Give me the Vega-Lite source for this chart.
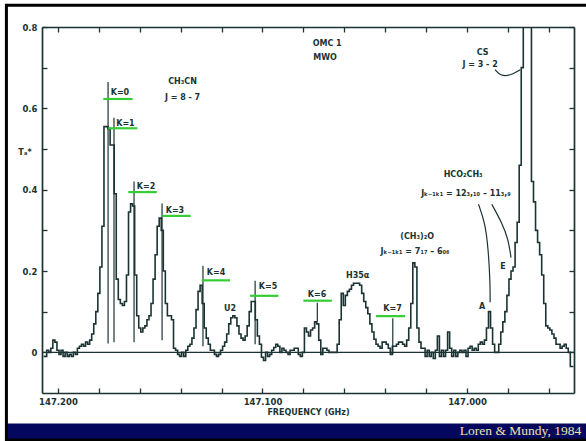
{
  "$schema": "https://vega.github.io/schema/vega-lite/v6.json",
  "width": 532,
  "height": 366,
  "autosize": "none",
  "padding": {"left": 42, "top": 27, "right": 12, "bottom": 48},
  "background": "white",
  "config": {"view": {"stroke": null}, "font": "DejaVu Sans"},
  "resolve": {"axis": {"x": "independent", "y": "independent"}},
  "datasets": {
    "spec": [
      {"f":147.207,"t":-0.01},{"f":147.206,"t":-0.01},{"f":147.205,"t":0.005},{"f":147.204,"t":0},{"f":147.203,"t":0.01},
      {"f":147.202,"t":0.03},{"f":147.201,"t":0.025},{"f":147.200,"t":0.005},{"f":147.199,"t":-0.005},{"f":147.198,"t":0.005},
      {"f":147.197,"t":-0.01},{"f":147.196,"t":0},{"f":147.195,"t":-0.01},{"f":147.194,"t":-0.005},{"f":147.193,"t":-0.01},
      {"f":147.192,"t":0},{"f":147.191,"t":-0.005},{"f":147.190,"t":0.01},{"f":147.189,"t":0.015},{"f":147.188,"t":0.02},
      {"f":147.187,"t":0.015},{"f":147.186,"t":0.025},{"f":147.185,"t":0.02},{"f":147.184,"t":0.03},{"f":147.183,"t":0.045},
      {"f":147.182,"t":0.07},{"f":147.181,"t":0.1},{"f":147.180,"t":0.145},{"f":147.179,"t":0.21},{"f":147.178,"t":0.31},
      {"f":147.177,"t":0.555},{"f":147.176,"t":0.555},{"f":147.175,"t":0.55},{"f":147.174,"t":0.51},{"f":147.173,"t":0.51},
      {"f":147.172,"t":0.39},{"f":147.171,"t":0.18},{"f":147.170,"t":0.13},{"f":147.169,"t":0.12},{"f":147.168,"t":0.115},
      {"f":147.167,"t":0.125},{"f":147.166,"t":0.19},{"f":147.165,"t":0.345},{"f":147.164,"t":0.365},{"f":147.163,"t":0.36},
      {"f":147.162,"t":0.19},{"f":147.161,"t":0.09},{"f":147.160,"t":0.06},{"f":147.159,"t":0.05},{"f":147.158,"t":0.06},
      {"f":147.157,"t":0.065},{"f":147.156,"t":0.08},{"f":147.155,"t":0.09},{"f":147.154,"t":0.12},{"f":147.153,"t":0.18},
      {"f":147.152,"t":0.24},{"f":147.151,"t":0.31},{"f":147.150,"t":0.33},{"f":147.149,"t":0.3},{"f":147.148,"t":0.2},
      {"f":147.147,"t":0.12},{"f":147.146,"t":0.09},{"f":147.145,"t":0.09},{"f":147.144,"t":0.08},{"f":147.143,"t":0.01},
      {"f":147.142,"t":0.005},{"f":147.141,"t":-0.005},{"f":147.140,"t":-0.01},{"f":147.139,"t":0},{"f":147.138,"t":-0.01},
      {"f":147.137,"t":0.005},{"f":147.136,"t":0.015},{"f":147.135,"t":0.02},{"f":147.134,"t":0.035},{"f":147.133,"t":0.06},
      {"f":147.132,"t":0.105},{"f":147.131,"t":0.15},{"f":147.130,"t":0.165},{"f":147.129,"t":0.12},{"f":147.128,"t":0.06},
      {"f":147.127,"t":0.035},{"f":147.126,"t":0.02},{"f":147.125,"t":0.005},{"f":147.124,"t":0.005},{"f":147.123,"t":-0.005},
      {"f":147.122,"t":-0.01},{"f":147.121,"t":-0.005},{"f":147.120,"t":0.005},{"f":147.119,"t":0.015},{"f":147.118,"t":0.025},
      {"f":147.117,"t":0.045},{"f":147.116,"t":0.07},{"f":147.115,"t":0.085},{"f":147.114,"t":0.09},{"f":147.113,"t":0.085},
      {"f":147.112,"t":0.065},{"f":147.111,"t":0.045},{"f":147.110,"t":0.035},{"f":147.109,"t":0.03},{"f":147.108,"t":0.04},
      {"f":147.107,"t":0.065},{"f":147.106,"t":0.1},{"f":147.105,"t":0.125},{"f":147.104,"t":0.125},{"f":147.103,"t":0.08},
      {"f":147.102,"t":0.04},{"f":147.101,"t":0.02},{"f":147.100,"t":-0.012},{"f":147.099,"t":-0.02},{"f":147.098,"t":0},
      {"f":147.097,"t":-0.01},{"f":147.096,"t":-0.005},{"f":147.095,"t":0.005},{"f":147.094,"t":0.012},{"f":147.093,"t":0.02},
      {"f":147.092,"t":0.015},{"f":147.091,"t":0},{"f":147.090,"t":0.01},{"f":147.089,"t":0.005},{"f":147.088,"t":0},
      {"f":147.087,"t":-0.005},{"f":147.086,"t":0.005},{"f":147.085,"t":0.005},{"f":147.084,"t":0.01},{"f":147.083,"t":0.01},
      {"f":147.082,"t":-0.005},{"f":147.081,"t":-0.01},{"f":147.080,"t":0},{"f":147.079,"t":0.06},{"f":147.078,"t":0.05},
      {"f":147.077,"t":0.04},{"f":147.076,"t":0.055},{"f":147.075,"t":0.06},{"f":147.074,"t":0.075},{"f":147.073,"t":0.07},
      {"f":147.072,"t":0.03},{"f":147.071,"t":-0.005},{"f":147.070,"t":0.01},{"f":147.069,"t":0.01},{"f":147.068,"t":0.005},
      {"f":147.067,"t":0},{"f":147.066,"t":0},{"f":147.065,"t":0},{"f":147.064,"t":0},{"f":147.063,"t":0.02},
      {"f":147.062,"t":0.08},{"f":147.061,"t":0.145},{"f":147.060,"t":0.115},{"f":147.059,"t":0.14},{"f":147.058,"t":0.15},
      {"f":147.057,"t":0.155},{"f":147.056,"t":0.165},{"f":147.055,"t":0.17},{"f":147.054,"t":0.17},{"f":147.053,"t":0.17},
      {"f":147.052,"t":0.165},{"f":147.051,"t":0.145},{"f":147.050,"t":0.125},{"f":147.049,"t":0.11},{"f":147.048,"t":0.095},
      {"f":147.047,"t":0.07},{"f":147.046,"t":0.05},{"f":147.045,"t":0.032},{"f":147.044,"t":0.02},{"f":147.043,"t":0.015},
      {"f":147.042,"t":0.01},{"f":147.041,"t":0.025},{"f":147.040,"t":0.025},{"f":147.039,"t":0.02},{"f":147.038,"t":0.01},
      {"f":147.037,"t":-0.005},{"f":147.036,"t":0.015},{"f":147.035,"t":0.015},{"f":147.034,"t":0.02},{"f":147.033,"t":0.025},
      {"f":147.032,"t":0.025},{"f":147.031,"t":0.02},{"f":147.030,"t":0.015},{"f":147.029,"t":0.03},{"f":147.028,"t":0.06},
      {"f":147.027,"t":0.12},{"f":147.026,"t":0.22},{"f":147.025,"t":0.21},{"f":147.024,"t":0.06},{"f":147.023,"t":0.025},
      {"f":147.022,"t":0.01},{"f":147.021,"t":0.01},{"f":147.020,"t":-0.01},{"f":147.019,"t":0.005},{"f":147.018,"t":-0.01},
      {"f":147.017,"t":0},{"f":147.016,"t":-0.015},{"f":147.015,"t":0.005},{"f":147.014,"t":0.04},{"f":147.013,"t":-0.01},
      {"f":147.012,"t":0.005},{"f":147.011,"t":-0.01},{"f":147.010,"t":0.005},{"f":147.009,"t":0.05},{"f":147.008,"t":0.01},
      {"f":147.007,"t":-0.01},{"f":147.006,"t":0.005},{"f":147.005,"t":-0.01},{"f":147.004,"t":0},{"f":147.003,"t":0.005},
      {"f":147.002,"t":0},{"f":147.001,"t":0.005},{"f":147.000,"t":-0.01},{"f":146.999,"t":0.01},{"f":146.998,"t":0.015},
      {"f":146.997,"t":0.005},{"f":146.996,"t":0.01},{"f":146.995,"t":0.005},{"f":146.994,"t":0.02},{"f":146.993,"t":0.025},
      {"f":146.992,"t":0.02},{"f":146.991,"t":0.03},{"f":146.990,"t":0.06},{"f":146.989,"t":0.1},{"f":146.988,"t":0.06},
      {"f":146.987,"t":0.02},{"f":146.986,"t":0},{"f":146.985,"t":0},{"f":146.984,"t":0.02},{"f":146.983,"t":0.05},
      {"f":146.982,"t":0.075},{"f":146.981,"t":0.1},{"f":146.980,"t":0.14},{"f":146.979,"t":0.18},{"f":146.978,"t":0.2},
      {"f":146.977,"t":0.21},{"f":146.976,"t":0.27},{"f":146.975,"t":0.32},{"f":146.974,"t":0.46},{"f":146.973,"t":0.7},
      {"f":146.972,"t":1.1},{"f":146.971,"t":1.2},{"f":146.970,"t":1.2},{"f":146.969,"t":1.1},{"f":146.968,"t":0.42},
      {"f":146.967,"t":0.37},{"f":146.966,"t":0.3},{"f":146.965,"t":0.27},{"f":146.964,"t":0.24},{"f":146.963,"t":0.19},
      {"f":146.962,"t":0.12},{"f":146.961,"t":0.065},{"f":146.960,"t":0.06},{"f":146.959,"t":0.055},{"f":146.958,"t":0.045},
      {"f":146.957,"t":0.035},{"f":146.956,"t":0.02},{"f":146.955,"t":0.02},{"f":146.954,"t":0.01},{"f":146.953,"t":0.015},
      {"f":146.952,"t":0.02},{"f":146.951,"t":0.01},{"f":146.950,"t":0},{"f":146.949,"t":-0.035},{"f":146.948,"t":-0.035}
    ],
    "markers": [
      {"k":"K=0","f":147.1755,"lo":0.022,"hi":0.665},
      {"k":"K=1","f":147.1726,"lo":0.025,"hi":0.577},
      {"k":"K=2","f":147.1628,"lo":0.025,"hi":0.42},
      {"k":"K=3","f":147.1491,"lo":0.03,"hi":0.366},
      {"k":"K=4","f":147.1291,"lo":0.015,"hi":0.213},
      {"k":"K=5","f":147.1036,"lo":0.02,"hi":0.176},
      {"k":"K=6","f":147.0732,"lo":0.075,"hi":0.122},
      {"k":"K=7","f":147.0363,"lo":-0.005,"hi":0.084}
    ],
    "greens": [
      {"k":"K=0","f1":147.1778,"f2":147.1635,"t":0.623},
      {"k":"K=1","f1":147.1754,"f2":147.1612,"t":0.551},
      {"k":"K=2","f1":147.1656,"f2":147.1517,"t":0.394},
      {"k":"K=3","f1":147.1490,"f2":147.1351,"t":0.3355},
      {"k":"K=4","f1":147.1297,"f2":147.1159,"t":0.177},
      {"k":"K=5","f1":147.1061,"f2":147.0922,"t":0.139},
      {"k":"K=6","f1":147.0800,"f2":147.0661,"t":0.127},
      {"k":"K=7","f1":147.0445,"f2":147.0303,"t":0.089}
    ],
    "curves": [
      {"c":"CS","i":0,"f":146.9863,"t":0.695},
      {"c":"CS","i":1,"f":146.9838,"t":0.68},
      {"c":"CS","i":2,"f":146.9789,"t":0.68},
      {"c":"CS","i":3,"f":146.9740,"t":0.695},
      {"c":"A","i":0,"f":146.9944,"t":0.364},
      {"c":"A","i":1,"f":146.9912,"t":0.319},
      {"c":"A","i":2,"f":146.9896,"t":0.254},
      {"c":"A","i":3,"f":146.9887,"t":0.172},
      {"c":"A","i":4,"f":146.9887,"t":0.123},
      {"c":"E","i":0,"f":146.9879,"t":0.364},
      {"c":"E","i":1,"f":146.9830,"t":0.319},
      {"c":"E","i":2,"f":146.9798,"t":0.278},
      {"c":"E","i":3,"f":146.9785,"t":0.233}
    ],
    "labels": [
      {"s":"CH₃CN","f":147.1391,"t":0.665},
      {"s":"J = 8 - 7","f":147.1391,"t":0.626},
      {"s":"OMC 1","f":147.0684,"t":0.757},
      {"s":"MWO","f":147.0694,"t":0.723},
      {"s":"CS","f":146.9924,"t":0.737},
      {"s":"J = 3 - 2","f":146.9936,"t":0.707},
      {"s":"HCO₂CH₃","f":147.0019,"t":0.436},
      {"s":"Jₖ₋₁ₖ₁ = 12₃,₁₀ – 11₃,₉","f":147.0005,"t":0.389},
      {"s":"(CH₃)₂O","f":147.0244,"t":0.284},
      {"s":"Jₖ₋₁ₖ₁ = 7₁₇ – 6₀₆","f":147.0254,"t":0.247},
      {"s":"H35α","f":147.0535,"t":0.187},
      {"s":"U2","f":147.1159,"t":0.107},
      {"s":"A","f":146.9926,"t":0.111},
      {"s":"E","f":146.9824,"t":0.209},
      {"s":"K=0","f":147.1697,"t":0.638},
      {"s":"K=1","f":147.1670,"t":0.562},
      {"s":"K=2","f":147.1569,"t":0.407},
      {"s":"K=3","f":147.1428,"t":0.348},
      {"s":"K=4","f":147.1227,"t":0.195},
      {"s":"K=5","f":147.0973,"t":0.160},
      {"s":"K=6","f":147.0733,"t":0.142},
      {"s":"K=7","f":147.0364,"t":0.106},
      {"s":"Tₐ*","f":147.2161,"t":0.491}
    ]
  },
  "layer": [
    {
      "data": {"values": [{"credit": "Loren & Mundy, 1984"}]},
      "mark": {"type": "rect", "color": "#03085e"},
      "encoding": {
        "x": {"datum": 147.2249, "type": "quantitative", "axis": null,
              "scale": {"domain": [146.9477, 147.2078], "reverse": true, "nice": false, "zero": false}},
        "x2": {"datum": 146.93},
        "y": {"datum": -0.175, "type": "quantitative", "axis": null,
              "scale": {"domain": [-0.1, 0.8], "nice": false, "zero": false}},
        "y2": {"datum": -0.23}
      }
    },
    {
      "data": {"values": [{"credit": "Loren & Mundy, 1984"}]},
      "mark": {"type": "rect", "fillOpacity": 0, "stroke": "#000000", "strokeWidth": 3},
      "encoding": {
        "x": {"datum": 147.2252, "type": "quantitative", "axis": null},
        "x2": {"datum": 146.93},
        "y": {"datum": 0.8534, "type": "quantitative", "axis": null},
        "y2": {"datum": -0.2156}
      }
    },
    {
      "data": {"values": [{"credit": "Loren & Mundy, 1984"}]},
      "mark": {"type": "text", "align": "right", "baseline": "middle", "font": "Liberation Serif", "fontSize": 13.5, "color": "#ece3a4"},
      "encoding": {
        "x": {"datum": 146.9442, "type": "quantitative", "axis": null},
        "y": {"datum": -0.1934, "type": "quantitative", "axis": null},
        "text": {"field": "credit"}
      }
    },
    {
      "data": {"values": [{"credit": "zero"}]},
      "mark": {"type": "rule", "color": "#1b3333", "strokeWidth": 1.4},
      "encoding": {
        "y": {"datum": 0, "type": "quantitative", "axis": null}
      }
    },
    {
      "data": {"name": "spec"},
      "mark": {"type": "line", "interpolate": "step", "color": "#1b3333", "strokeWidth": 1.6, "clip": true},
      "encoding": {
        "x": {"field": "f", "type": "quantitative",
              "axis": {"orient": "bottom", "values": [146.96,146.98,147.0,147.02,147.04,147.06,147.08,147.1,147.12,147.14,147.16,147.18,147.2],
                       "labelExpr": "abs(datum.value*10 - round(datum.value*10)) < 0.0001 ? format(datum.value, '.3f') : ''",
                       "title": "FREQUENCY (GHz)", "titleFont": "DejaVu Sans", "titleFontSize": 8, "titleFontWeight": "bold", "titleColor": "#1b3333", "titlePadding": 3,
                       "labelFont": "DejaVu Sans", "labelFontSize": 8.5, "labelFontWeight": "bold", "labelColor": "#1b3333", "labelPadding": 9, "labelFlush": false, "labelOverlap": false,
                       "tickSize": -5, "tickColor": "#1b3333", "tickWidth": 1.3, "domainColor": "#1b3333", "domainWidth": 1.7, "grid": false}},
        "y": {"field": "t", "type": "quantitative",
              "axis": {"orient": "left", "values": [0,0.1,0.2,0.3,0.4,0.5,0.6,0.7,0.8],
                       "labelExpr": "datum.value == 0 ? '0' : (round(datum.value*10) % 2 == 0 ? format(datum.value, '.1f') : '')",
                       "title": null, "labelFont": "DejaVu Sans", "labelFontSize": 8.5, "labelFontWeight": "bold", "labelColor": "#1b3333", "labelPadding": 10, "labelOverlap": false,
                       "tickSize": -5, "tickColor": "#1b3333", "tickWidth": 1.3, "domainColor": "#1b3333", "domainWidth": 1.7, "grid": false}}
      }
    },
    {
      "data": {"name": "markers"},
      "mark": {"type": "rule", "color": "#1b3333", "strokeWidth": 1.2},
      "encoding": {
        "x": {"field": "f", "type": "quantitative",
              "axis": {"orient": "top", "values": [146.96,146.98,147.0,147.02,147.04,147.06,147.08,147.1,147.12,147.14,147.16,147.18,147.2],
                       "labels": false, "title": null, "tickSize": -5, "tickColor": "#1b3333", "tickWidth": 1.3, "domainColor": "#1b3333", "domainWidth": 1.7, "grid": false}},
        "y": {"field": "lo", "type": "quantitative",
              "axis": {"orient": "right", "values": [0,0.1,0.2,0.3,0.4,0.5,0.6,0.7,0.8],
                       "labels": false, "title": null, "tickSize": -5, "tickColor": "#1b3333", "tickWidth": 1.3, "domainColor": "#1b3333", "domainWidth": 1.7, "grid": false}},
        "y2": {"field": "hi"}
      }
    },
    {
      "data": {"name": "greens"},
      "mark": {"type": "rule", "color": "#35cc35", "strokeWidth": 2.2},
      "encoding": {
        "x": {"field": "f1", "type": "quantitative", "axis": null},
        "x2": {"field": "f2"},
        "y": {"field": "t", "type": "quantitative", "axis": null}
      }
    },
    {
      "data": {"name": "curves"},
      "mark": {"type": "line", "interpolate": "basis", "color": "#1b3333", "strokeWidth": 1.2},
      "encoding": {
        "x": {"field": "f", "type": "quantitative", "axis": null},
        "y": {"field": "t", "type": "quantitative", "axis": null},
        "detail": {"field": "c"},
        "order": {"field": "i"}
      }
    },
    {
      "data": {"name": "labels"},
      "mark": {"type": "text", "align": "center", "baseline": "middle", "font": "DejaVu Sans", "fontSize": 8, "fontWeight": "bold", "color": "#1b3333"},
      "encoding": {
        "x": {"field": "f", "type": "quantitative", "axis": null},
        "y": {"field": "t", "type": "quantitative", "axis": null},
        "text": {"field": "s"}
      }
    }
  ]
}
